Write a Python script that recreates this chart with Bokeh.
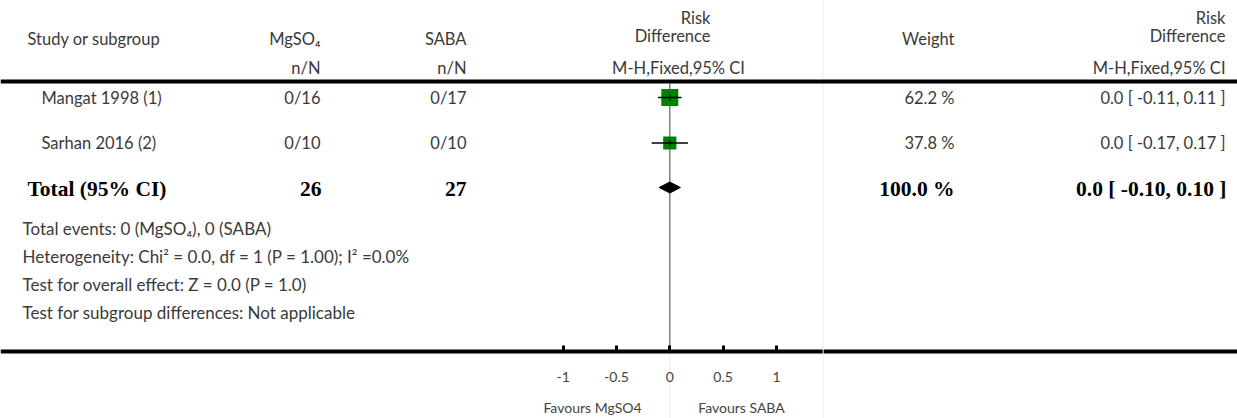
import math
from bokeh.plotting import figure
from bokeh.models import Range1d, Span, LinearAxis, FixedTicker, ColumnDataSource, CustomJSTickFormatter
from bokeh.core.properties import value
from bokeh.embed import file_html
from bokeh.resources import INLINE

# ---------------- data ----------------
studies = ["Mangat 1998 (1)", "Sarhan 2016 (2)"]
mg_events = [0, 0]
mg_totals = [16, 10]
saba_events = [0, 0]
saba_totals = [17, 10]
weights = [62.2, 37.8]
rd = [0.0, 0.0]
rd_lo = [-0.11, -0.17]
rd_hi = [0.11, 0.17]

total_mg = 26
total_saba = 27
total_weight = 100.0
total_rd = 0.0
total_lo = -0.10
total_hi = 0.10

ticks = [-1, -0.5, 0, 0.5, 1]
tick_labels = ["-1", "-0.5", "0", "0.5", "1"]

footer_lines = [
    "Total events: 0 (MgSO\u2084), 0 (SABA)",
    "Heterogeneity: Chi\u00b2 = 0.0, df = 1 (P = 1.00); I\u00b2 =0.0%",
    "Test for overall effect: Z = 0.0 (P = 1.0)",
    "Test for subgroup differences: Not applicable",
]

# ---------------- layout helpers ----------------
W, H = 1237, 418
ORIGIN = 0             # observed page position of the figure's top-left corner
ZERO_PX = 669.3        # page x of the zero line
UNIT_PX = 106.67       # pixels per risk-difference unit


def dx(page_x):
    return (page_x - ZERO_PX) / UNIT_PX


FONT = "Lato"
SERIF = "Liberation Serif"
TXT = "#3a3a3a"
FS = "16.5px"

p = figure(width=W, height=H, output_backend="svg", toolbar_location=None,
           x_range=Range1d(dx(ORIGIN), dx(ORIGIN + W)), y_range=Range1d(ORIGIN + H, ORIGIN),
           min_border=0, outline_line_color=None)
p.xaxis.visible = False
p.yaxis.visible = False
p.grid.visible = False
p.background_fill_color = "white"

row_y = [97, 142.5]
total_y = 188
footer_y = [228, 256, 284, 312]
axis_y = 351


def put(texts, x, y, align, size=FS, font=FONT, style="normal", color=TXT):
    src = ColumnDataSource(dict(x=x, y=y, t=texts))
    p.text(x="x", y="y", text="t", source=src, text_align=align, text_baseline="middle",
           text_font=value(font), text_font_size=size, text_font_style=style,
           text_color=color)


# faint column separator and zero line
p.add_layout(Span(location=dx(822.7), dimension="height", line_color="#f0f0f0", line_width=1))
p.segment(x0=[0], x1=[0], y0=[axis_y], y1=[ORIGIN + H], line_color="#ececec", line_width=1)
p.segment(x0=[0], x1=[0], y0=[82], y1=[axis_y], line_color="#808080", line_width=1.5)

# top rule
p.add_layout(Span(location=81, dimension="width", line_color="black", line_width=4))

# headers
put(["Risk", "Risk"], [dx(710), dx(1225)], [17, 17], "right")
put(["Difference", "Difference"], [dx(710), dx(1225)], [35, 35], "right")
put(["Study or subgroup"], [dx(27)], [38], "left")
put(["MgSO\u2084", "SABA", "Weight"], [dx(320), dx(466), dx(954)], [38, 38, 38], "right")
put(["n/N", "n/N"], [dx(320), dx(466)], [67, 67], "right")
put(["M-H,Fixed,95% CI"], [dx(678)], [67], "center")
put(["M-H,Fixed,95% CI"], [dx(1225)], [67], "right")

# study rows
put(studies, [dx(41)] * len(studies), row_y, "left")
put([f"{e}/{n}" for e, n in zip(mg_events, mg_totals)], [dx(320)] * 2, row_y, "right")
put([f"{e}/{n}" for e, n in zip(saba_events, saba_totals)], [dx(466)] * 2, row_y, "right")
put([f"{w:.1f} %" for w in weights], [dx(954)] * 2, row_y, "right")
put([f"{r:.1f} [ {l:.2f}, {h:.2f} ]" for r, l, h in zip(rd, rd_lo, rd_hi)], [dx(1225)] * 2, row_y, "right")

# squares, CI lines, point ticks
p.scatter(x=rd, y=row_y, marker="square", size=[2.15 * math.sqrt(w) for w in weights],
          fill_color="#008000", line_color=None)
p.segment(x0=rd_lo, x1=rd_hi, y0=row_y, y1=row_y, line_color="black", line_width=1.6)
p.scatter(x=rd, y=row_y, marker="cross", size=7, line_color="black", line_width=1)

# total row
put(["Total (95% CI)"], [dx(27)], [total_y], "left", size="21.5px", font=SERIF, style="bold", color="black")
put([str(total_mg), str(total_saba), f"{total_weight:.1f} %",
     f"{total_rd:.1f} [ {total_lo:.2f}, {total_hi:.2f} ]"],
    [dx(321), dx(466), dx(954), dx(1226)], [total_y] * 4, "right",
    size="21.5px", font=SERIF, style="bold", color="black")
p.patch(x=[total_lo, total_rd, total_hi, total_rd],
        y=[total_y - 1, total_y - 6.5, total_y - 1, total_y + 4.5],
        fill_color="black", line_color="black", line_width=1)

# footer
put(footer_lines, [dx(22)] * 4, footer_y, "left", size="17px")

# bottom axis (drawn through Bokeh's own axis at a fixed location)
ax = LinearAxis(fixed_location=axis_y, ticker=FixedTicker(ticks=ticks),
                axis_line_color="black", axis_line_width=4,
                major_tick_in=6, major_tick_out=0, major_tick_line_width=3,
                major_tick_line_color="black", minor_tick_line_color=None,
                major_label_text_font=FONT, major_label_text_font_size="14px",
                major_label_text_color="#444444", major_label_standoff=20,
                formatter=CustomJSTickFormatter(args=dict(tvals=ticks, tlabels=tick_labels),
                                                code="return tlabels[tvals.indexOf(tick)]"))
p.add_layout(ax, "below")

put(["Favours MgSO4", "Favours SABA"], [dx(592), dx(741)], [407, 407], "center",
    size="14px", color="#444444")

open("out.html", "w").write(file_html(p, INLINE))
